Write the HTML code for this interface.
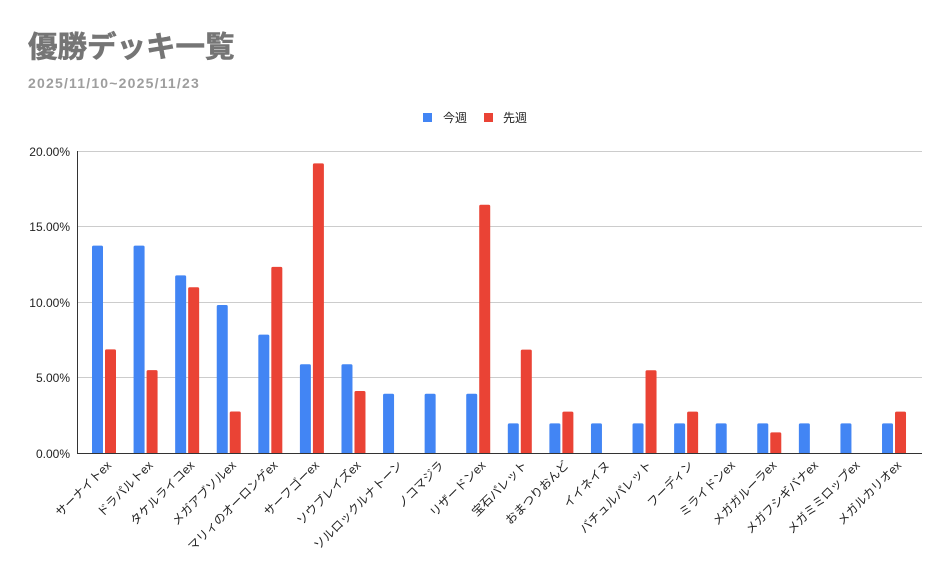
<!DOCTYPE html>
<html><head><meta charset="utf-8"><style>
body{margin:0;background:#fff;}
svg text{font-family:"Liberation Sans","Noto Sans CJK JP",sans-serif;}
</style></head><body>
<svg width="950" height="569" xmlns="http://www.w3.org/2000/svg">
<rect width="950" height="569" fill="#fff"/>
<text x="28" y="57" font-size="29.5" font-weight="bold" fill="#757575" stroke="#757575" stroke-width="0.6">優勝デッキ一覧</text>
<text x="28" y="88" font-size="14" font-weight="bold" fill="#9e9e9e" letter-spacing="1.2">2025/11/10~2025/11/23</text>
<rect x="423" y="113" width="9" height="9" fill="#4285f4"/>
<text x="443" y="122" font-size="12" fill="#222">今週</text>
<rect x="484" y="113" width="9" height="9" fill="#ea4335"/>
<text x="503" y="122" font-size="12" fill="#222">先週</text>
<g stroke="#ccc" stroke-width="1">
<line x1="77" x2="922" y1="151.5" y2="151.5"/>
<line x1="77" x2="922" y1="226.5" y2="226.5"/>
<line x1="77" x2="922" y1="302.5" y2="302.5"/>
<line x1="77" x2="922" y1="377.5" y2="377.5"/>
</g>
<g font-size="12" fill="#222" text-anchor="end">
<text x="70" y="156">20.00%</text>
<text x="70" y="231">15.00%</text>
<text x="70" y="307">10.00%</text>
<text x="70" y="382">5.00%</text>
<text x="70" y="458">0.00%</text>
</g>
<g id="bars"></g>
<line x1="77.5" x2="77.5" y1="151" y2="453" stroke="#333"/>
<line x1="77" x2="922" y1="453.5" y2="453.5" stroke="#333"/>
<g id="labels" font-size="12" fill="#222" text-anchor="end"></g>
<script>
var d=[["サーナイトex",13.73,6.86],["ドラパルトex",13.73,5.49],["タケルライコex",11.76,10.98],["メガアブソルex",9.8,2.75],["マリィのオーロンゲex",7.84,12.33],["サーフゴーex",5.88,19.18],["ソウブレイズex",5.88,4.11],["ソルロックルナトーン",3.92,0],["ノコマジラ",3.92,0],["リザードンex",3.92,16.44],["宝石パレット",1.96,6.85],["おまつりおんど",1.96,2.74],["イイネイヌ",1.96,0],["バチュルパレット",1.96,5.48],["フーディン",1.96,2.74],["ミライドンex",1.96,0],["メガガルーラex",1.96,1.37],["メガフシギバナex",1.96,0],["メガミミロップex",1.96,0],["メガルカリオex",1.96,2.74]];
var ns="http://www.w3.org/2000/svg",b=document.getElementById("bars"),l=document.getElementById("labels");
d.forEach(function(r,i){var x=92+41.58*i;
[[r[1],x,"#4285f4"],[r[2],x+13,"#ea4335"]].forEach(function(v){if(!v[0])return;var h=v[0]*15.1;var e=document.createElementNS(ns,"rect");e.setAttribute("x",v[1]);e.setAttribute("y",453-h);e.setAttribute("width",11);e.setAttribute("height",h+1);e.setAttribute("rx",1.5);e.setAttribute("fill",v[2]);b.appendChild(e);});
var cx=x+20,t=document.createElementNS(ns,"text");t.setAttribute("transform","translate("+cx+",466) rotate(-45)");t.textContent=r[0];l.appendChild(t);});
</script>
</svg>
</body></html>
